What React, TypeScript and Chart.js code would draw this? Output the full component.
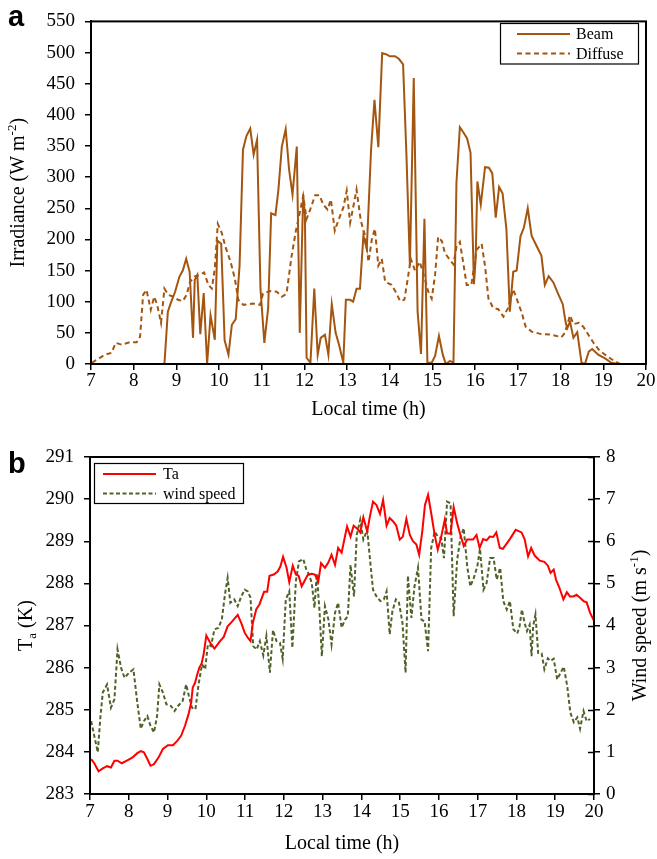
import React, { useEffect, useRef } from "react";
import { Chart, registerables } from "chart.js";
Chart.register(...registerables);

const SERIF = '"Liberation Serif", "Times New Roman", Times, serif';
const SANS = '"Liberation Sans", Arial, sans-serif';

// ---------- Panel a : irradiance ----------
const beamTime = [7.30, 8.72, 8.80, 8.88, 8.97, 9.07, 9.15, 9.23, 9.31, 9.39, 9.43, 9.49, 9.56, 9.64, 9.72, 9.80, 9.90, 9.96, 10.05, 10.13, 10.22, 10.30, 10.39, 10.48, 10.56, 10.64, 10.73, 10.81, 10.89, 10.97, 11.06, 11.15, 11.22, 11.32, 11.39, 11.47, 11.56, 11.64, 11.72, 11.82, 11.89, 11.97, 12.01, 12.05, 12.14, 12.23, 12.31, 12.38, 12.48, 12.56, 12.64, 12.73, 12.81, 12.91, 12.97, 13.07, 13.14, 13.22, 13.30, 13.38, 13.46, 13.56, 13.64, 13.73, 13.82, 13.92, 14.00, 14.12, 14.21, 14.31, 14.39, 14.47, 14.56, 14.65, 14.73, 14.81, 14.88, 14.98, 15.06, 15.15, 15.24, 15.31, 15.41, 15.49, 15.56, 15.64, 15.72, 15.81, 15.89, 15.97, 16.01, 16.05, 16.13, 16.23, 16.32, 16.40, 16.48, 16.56, 16.64, 16.73, 16.81, 16.89, 16.97, 17.06, 17.14, 17.23, 17.32, 17.44, 17.55, 17.63, 17.72, 17.83, 17.94, 18.05, 18.12, 18.16, 18.22, 18.30, 18.39, 18.49, 18.57, 18.66, 18.74, 18.88, 19.04, 19.19, 19.36];
const beamValues = [0, 0, 84, 100, 116, 140, 150, 169, 148, 42, 135, 143, 48, 114, 0, 78, 39, 198, 193, 38, 15, 63, 72, 158, 344, 366, 378, 336, 360, 121, 34, 90, 242, 239, 280, 349, 377, 312, 272, 349, 50, 272, 240, 10, 2, 121, 15, 42, 47, 15, 96, 50, 31, 2, 103, 103, 100, 121, 121, 206, 185, 344, 424, 348, 499, 497, 494, 494, 490, 481, 333, 158, 459, 84, 16, 233, 2, 2, 13, 45, 15, 0, 5, 2, 291, 380, 372, 362, 339, 128, 169, 293, 256, 316, 315, 306, 235, 284, 274, 217, 84, 148, 150, 205, 219, 250, 206, 189, 174, 127, 141, 131, 113, 96, 66, 58, 68, 42, 51, 2, 0, 20, 24, 15, 9, 2, 0];

const diffuseTime = [7.02, 7.33, 7.48, 7.58, 7.72, 7.91, 8.07, 8.15, 8.22, 8.30, 8.40, 8.48, 8.55, 8.64, 8.72, 8.81, 8.93, 9.04, 9.15, 9.24, 9.32, 9.44, 9.55, 9.65, 9.75, 9.83, 9.90, 9.97, 10.06, 10.15, 10.27, 10.37, 10.45, 10.57, 10.68, 10.80, 10.96, 11.03, 11.19, 11.35, 11.47, 11.58, 11.70, 11.80, 11.89, 11.97, 12.05, 12.14, 12.25, 12.35, 12.44, 12.54, 12.62, 12.71, 12.79, 12.91, 12.99, 13.07, 13.14, 13.22, 13.32, 13.42, 13.50, 13.58, 13.65, 13.73, 13.81, 13.89, 14.04, 14.16, 14.24, 14.34, 14.42, 14.49, 14.59, 14.70, 14.82, 14.90, 14.98, 15.06, 15.13, 15.22, 15.29, 15.41, 15.49, 15.56, 15.64, 15.72, 15.80, 15.91, 16.03, 16.15, 16.23, 16.31, 16.42, 16.54, 16.66, 16.77, 16.89, 16.97, 17.09, 17.18, 17.32, 17.55, 17.79, 18.02, 18.10, 18.22, 18.30, 18.43, 18.53, 18.65, 18.80, 18.92, 19.08, 19.23, 19.39];
const diffuseValues = [2, 15, 18, 34, 31, 35, 35, 44, 111, 119, 87, 108, 95, 66, 121, 111, 108, 103, 101, 111, 132, 141, 143, 147, 127, 121, 153, 225, 211, 188, 164, 137, 103, 95, 96, 97, 95, 113, 117, 116, 108, 113, 174, 214, 243, 270, 233, 249, 271, 271, 256, 248, 264, 214, 230, 251, 278, 227, 251, 280, 230, 206, 164, 201, 217, 158, 169, 132, 127, 113, 101, 103, 137, 169, 150, 164, 137, 116, 105, 143, 204, 197, 178, 167, 160, 188, 196, 162, 127, 127, 183, 193, 157, 105, 90, 88, 76, 90, 120, 105, 82, 60, 52, 48, 47, 43, 50, 78, 64, 66, 60, 47, 31, 21, 13, 6, 0];

// ---------- Panel b : air temperature and wind speed ----------
const taTime = [7.03, 7.11, 7.22, 7.33, 7.44, 7.54, 7.63, 7.71, 7.82, 7.95, 8.10, 8.22, 8.31, 8.39, 8.48, 8.56, 8.65, 8.77, 8.88, 9.01, 9.14, 9.25, 9.35, 9.45, 9.54, 9.61, 9.65, 9.71, 9.76, 9.82, 9.88, 9.93, 10.00, 10.10, 10.21, 10.34, 10.45, 10.55, 10.65, 10.81, 10.90, 10.99, 11.07, 11.14, 11.20, 11.29, 11.37, 11.49, 11.57, 11.63, 11.74, 11.84, 11.91, 11.98, 12.07, 12.14, 12.23, 12.31, 12.38, 12.46, 12.53, 12.62, 12.72, 12.80, 12.89, 12.96, 13.06, 13.15, 13.23, 13.32, 13.40, 13.49, 13.56, 13.63, 13.72, 13.80, 13.88, 13.97, 14.05, 14.15, 14.22, 14.30, 14.39, 14.48, 14.56, 14.65, 14.73, 14.82, 14.90, 14.99, 15.07, 15.16, 15.25, 15.33, 15.42, 15.49, 15.57, 15.64, 15.72, 15.80, 15.89, 15.97, 16.06, 16.15, 16.21, 16.30, 16.38, 16.47, 16.56, 16.64, 16.73, 16.88, 16.97, 17.05, 17.14, 17.23, 17.31, 17.40, 17.48, 17.57, 17.65, 17.83, 17.98, 18.13, 18.21, 18.30, 18.38, 18.47, 18.60, 18.72, 18.81, 18.88, 18.96, 19.02, 19.11, 19.21, 19.30, 19.38, 19.47, 19.55, 19.64, 19.73, 19.81, 19.90, 19.99];
const taValues = [283.83, 283.73, 283.54, 283.61, 283.66, 283.63, 283.79, 283.79, 283.73, 283.79, 283.87, 283.97, 284.02, 283.99, 283.83, 283.67, 283.71, 283.87, 284.07, 284.16, 284.16, 284.26, 284.38, 284.62, 284.89, 285.17, 285.53, 285.64, 285.82, 286.0, 286.10, 286.31, 286.76, 286.59, 286.45, 286.61, 286.73, 286.98, 287.08, 287.25, 287.06, 286.83, 286.71, 286.63, 287.06, 287.39, 287.50, 287.80, 287.80, 288.18, 288.21, 288.28, 288.40, 288.63, 288.37, 288.03, 288.42, 288.21, 288.18, 287.93, 288.05, 288.21, 288.23, 288.21, 288.05, 288.48, 288.37, 288.50, 288.68, 288.44, 288.84, 288.73, 289.04, 289.35, 289.11, 289.37, 289.31, 289.21, 289.57, 289.23, 289.59, 289.94, 289.86, 289.65, 289.98, 289.37, 289.55, 289.47, 289.37, 289.04, 289.11, 289.53, 289.15, 289.0, 288.92, 288.68, 289.23, 289.86, 290.10, 289.67, 289.15, 288.80, 289.11, 289.51, 289.19, 289.18, 289.81, 289.43, 289.13, 288.89, 289.04, 289.04, 289.15, 288.84, 289.05, 289.02, 289.11, 289.10, 289.21, 288.84, 288.82, 289.05, 289.27, 289.21, 289.05, 288.64, 288.84, 288.66, 288.54, 288.51, 288.42, 288.25, 288.33, 288.09, 287.89, 287.62, 287.79, 287.69, 287.69, 287.73, 287.66, 287.58, 287.55, 287.30, 287.13];

const windTime = [7.03, 7.11, 7.20, 7.27, 7.33, 7.44, 7.54, 7.63, 7.71, 7.80, 7.89, 8.01, 8.12, 8.22, 8.31, 8.39, 8.48, 8.56, 8.65, 8.73, 8.79, 8.88, 8.97, 9.09, 9.18, 9.27, 9.39, 9.48, 9.55, 9.63, 9.72, 9.80, 9.89, 9.97, 10.04, 10.12, 10.21, 10.31, 10.40, 10.48, 10.55, 10.62, 10.72, 10.81, 10.90, 10.99, 11.07, 11.14, 11.21, 11.30, 11.38, 11.47, 11.55, 11.64, 11.72, 11.81, 11.90, 11.97, 12.05, 12.14, 12.22, 12.31, 12.39, 12.50, 12.58, 12.65, 12.72, 12.79, 12.85, 12.92, 12.98, 13.06, 13.15, 13.23, 13.32, 13.40, 13.49, 13.58, 13.65, 13.72, 13.76, 13.81, 13.88, 13.97, 14.05, 14.15, 14.24, 14.30, 14.39, 14.49, 14.58, 14.65, 14.73, 14.80, 14.89, 14.97, 15.06, 15.14, 15.20, 15.29, 15.37, 15.46, 15.55, 15.63, 15.72, 15.80, 15.89, 15.97, 16.06, 16.13, 16.21, 16.30, 16.38, 16.47, 16.56, 16.64, 16.73, 16.81, 16.90, 16.99, 17.06, 17.15, 17.23, 17.32, 17.41, 17.49, 17.58, 17.66, 17.75, 17.83, 17.92, 18.02, 18.08, 18.14, 18.21, 18.27, 18.34, 18.39, 18.43, 18.49, 18.56, 18.65, 18.72, 18.81, 18.88, 18.96, 19.05, 19.14, 19.22, 19.31, 19.39, 19.48, 19.57, 19.64, 19.73, 19.81, 19.90];
const windValues = [1.73, 1.38, 0.99, 1.85, 2.41, 2.60, 2.05, 2.25, 3.43, 3.0, 2.76, 2.88, 2.96, 2.17, 1.55, 1.73, 1.85, 1.62, 1.46, 1.85, 2.60, 2.41, 2.13, 2.09, 1.97, 2.09, 2.21, 2.60, 2.33, 2.05, 2.01, 2.60, 3.08, 2.96, 3.55, 3.51, 3.91, 3.94, 4.14, 4.73, 5.13, 4.54, 4.62, 4.46, 4.69, 4.85, 4.81, 4.66, 3.51, 3.43, 3.63, 3.29, 3.75, 2.88, 3.89, 3.63, 3.59, 3.21, 4.62, 4.81, 3.47, 5.05, 5.52, 5.58, 5.33, 5.21, 5.01, 4.42, 5.23, 4.34, 3.27, 4.46, 4.14, 3.55, 4.30, 4.54, 3.95, 4.14, 4.22, 5.44, 5.09, 4.69, 6.15, 6.51, 6.04, 6.27, 5.40, 4.85, 4.69, 4.58, 4.62, 4.81, 3.79, 4.34, 4.62, 4.54, 4.06, 2.88, 5.18, 4.18, 4.93, 5.37, 4.14, 4.10, 3.39, 5.84, 6.23, 6.11, 6.07, 5.60, 6.94, 6.90, 4.22, 5.56, 6.11, 6.31, 5.40, 4.93, 5.13, 5.40, 5.82, 4.85, 5.01, 5.60, 5.60, 5.09, 5.37, 4.58, 4.38, 4.58, 3.91, 3.81, 3.98, 4.38, 4.06, 3.87, 4.02, 3.27, 3.98, 4.26, 3.35, 3.34, 2.96, 3.22, 3.16, 3.21, 2.72, 2.88, 3.02, 2.56, 1.93, 1.70, 1.82, 1.55, 1.97, 1.73, 1.78];

const beamLabel = "Beam";
const diffuseLabel = "Diffuse";
const taLabel = "Ta";
const windLabel = "wind speed";

const BROWN = "#A4550F";
const RED = "#FF0000";
const OLIVE = "#4F6228";

type Part = { text: string; mode?: "sup" | "sub" };

function partFont(size: number, mode?: string) {
  return `${mode ? Math.round(size * 0.65) : size}px ${SERIF}`;
}

function richWidth(ctx: CanvasRenderingContext2D, parts: Part[], size: number) {
  let w = 0;
  for (const p of parts) {
    ctx.font = partFont(size, p.mode);
    w += ctx.measureText(p.text).width;
  }
  return w;
}

function drawRich(ctx: CanvasRenderingContext2D, parts: Part[], cx: number, cy: number, size: number, rotate: boolean) {
  ctx.save();
  ctx.translate(cx, cy);
  if (rotate) ctx.rotate(-Math.PI / 2);
  ctx.fillStyle = "#000";
  ctx.textBaseline = "middle";
  ctx.textAlign = "left";
  let x = -richWidth(ctx, parts, size) / 2;
  for (const p of parts) {
    ctx.font = partFont(size, p.mode);
    const dy = p.mode === "sup" ? -size * 0.32 : p.mode === "sub" ? size * 0.28 : 0;
    ctx.fillText(p.text, x, dy);
    x += ctx.measureText(p.text).width;
  }
  ctx.restore();
}

type LegendItem = { label: string; color: string; dash: number[] };

function drawLegend(ctx: CanvasRenderingContext2D, box: { x: number; y: number; w: number; h: number }, lineX0: number, lineX1: number, textX: number, rowsY: number[], items: LegendItem[]) {
  ctx.save();
  ctx.fillStyle = "#fff";
  ctx.fillRect(box.x, box.y, box.w, box.h);
  ctx.strokeStyle = "#000";
  ctx.lineWidth = 1.2;
  ctx.strokeRect(box.x, box.y, box.w, box.h);
  items.forEach((it, i) => {
    const y = rowsY[i];
    ctx.strokeStyle = it.color;
    ctx.lineWidth = 2;
    ctx.setLineDash(it.dash);
    ctx.beginPath();
    ctx.moveTo(lineX0, y);
    ctx.lineTo(lineX1, y);
    ctx.stroke();
    ctx.setLineDash([]);
    ctx.fillStyle = "#000";
    ctx.font = `16px ${SERIF}`;
    ctx.textBaseline = "middle";
    ctx.textAlign = "left";
    ctx.fillText(it.label, textX, y + 1);
  });
  ctx.restore();
}

const tickFont = { family: SERIF, size: 19 };

function axisStyle(tickLength: number) {
  return {
    grid: { drawOnChartArea: false, drawTicks: true, tickLength, color: "#000", lineWidth: 1.5 },
    border: { display: true, color: "#000", width: 2 },
  };
}

function pts(xs: number[], ys: number[]) {
  return xs.map((x, i) => ({ x, y: ys[i] }));
}

function makeChartA(canvas: HTMLCanvasElement) {
  const deco = {
    id: "decoA",
    afterDraw(chart: any) {
      const ctx: CanvasRenderingContext2D = chart.ctx;
      const a = chart.chartArea;
      ctx.save();
      ctx.strokeStyle = "#000";
      ctx.lineWidth = 2;
      ctx.strokeRect(a.left, a.top, a.right - a.left, a.bottom - a.top);
      ctx.restore();
      drawLegend(ctx, { x: 500.5, y: 23.5, w: 138, h: 40.5 }, 517, 570, 576, [34, 53.5], [
        { label: beamLabel, color: BROWN, dash: [] },
        { label: diffuseLabel, color: BROWN, dash: [5, 3.5] },
      ]);
      drawRich(ctx, [{ text: "Local time (h)" }], (a.left + a.right) / 2, a.bottom + 46, 20, false);
      drawRich(ctx, [{ text: "Irradiance (W m" }, { text: "-2", mode: "sup" }, { text: ")" }], 19, (a.top + a.bottom) / 2, 20, true);
      ctx.save();
      ctx.fillStyle = "#000";
      ctx.font = `bold 29px ${SANS}`;
      ctx.textBaseline = "alphabetic";
      ctx.textAlign = "left";
      ctx.fillText("a", 8, 26);
      ctx.restore();
    },
  };
  return new Chart(canvas, {
    type: "line",
    data: {
      datasets: [
        { label: beamLabel, data: pts(beamTime, beamValues), borderColor: BROWN, borderWidth: 2, pointRadius: 0, tension: 0, fill: false },
        { label: diffuseLabel, data: pts(diffuseTime, diffuseValues), borderColor: BROWN, borderWidth: 2, borderDash: [5, 3.5], pointRadius: 0, tension: 0, fill: false },
      ],
    },
    options: {
      responsive: false,
      animation: false,
      devicePixelRatio: 1,
      layout: { padding: { left: 0, right: 11, top: 16, bottom: 0 } },
      plugins: { legend: { display: false }, tooltip: { enabled: false } },
      scales: {
        x: {
          type: "linear",
          min: 7,
          max: 20,
          ticks: { stepSize: 1, autoSkip: false, maxRotation: 0, font: tickFont, color: "#000", padding: 0 },
          ...axisStyle(6),
          afterFit: (s: any) => { s.height = 66; },
        },
        y: {
          type: "linear",
          min: 0,
          max: 550,
          ticks: { stepSize: 50, autoSkip: false, font: tickFont, color: "#000", padding: 10 },
          ...axisStyle(6),
          afterFit: (s: any) => { s.width = 91; },
        },
      },
    } as any,
    plugins: [deco],
  });
}

function makeChartB(canvas: HTMLCanvasElement) {
  const deco = {
    id: "decoB",
    afterDraw(chart: any) {
      const ctx: CanvasRenderingContext2D = chart.ctx;
      const a = chart.chartArea;
      ctx.save();
      ctx.strokeStyle = "#000";
      ctx.lineWidth = 2;
      ctx.strokeRect(a.left, a.top, a.right - a.left, a.bottom - a.top);
      const y2 = chart.scales.y2;
      ctx.lineWidth = 1.5;
      y2.ticks.forEach((t: any) => {
        const py = Math.round(y2.getPixelForValue(t.value)) + 0.5;
        ctx.beginPath();
        ctx.moveTo(a.right - 6, py);
        ctx.lineTo(a.right, py);
        ctx.stroke();
      });
      ctx.restore();
      drawLegend(ctx, { x: 94.5, y: 33.5, w: 149, h: 40 }, 103, 156, 163, [44, 63.5], [
        { label: taLabel, color: RED, dash: [] },
        { label: windLabel, color: OLIVE, dash: [4, 2.5] },
      ]);
      drawRich(ctx, [{ text: "Local time (h)" }], (a.left + a.right) / 2, a.bottom + 50, 20, false);
      drawRich(ctx, [{ text: "T" }, { text: "a", mode: "sub" }, { text: " (K)" }], 27, (a.top + a.bottom) / 2, 20, true);
      drawRich(ctx, [{ text: "Wind speed (m s" }, { text: "-1", mode: "sup" }, { text: ")" }], 641, (a.top + a.bottom) / 2, 20, true);
      ctx.save();
      ctx.fillStyle = "#000";
      ctx.font = `bold 29px ${SANS}`;
      ctx.textBaseline = "alphabetic";
      ctx.textAlign = "left";
      ctx.fillText("b", 8, 43);
      ctx.restore();
    },
  };
  return new Chart(canvas, {
    type: "line",
    data: {
      datasets: [
        { label: taLabel, data: pts(taTime, taValues), yAxisID: "y", borderColor: RED, borderWidth: 2, pointRadius: 0, tension: 0, fill: false },
        { label: windLabel, data: pts(windTime, windValues), yAxisID: "y2", borderColor: OLIVE, borderWidth: 2, borderDash: [4, 2.5], pointRadius: 0, tension: 0, fill: false },
      ],
    },
    options: {
      responsive: false,
      animation: false,
      devicePixelRatio: 1,
      layout: { padding: { left: 0, right: 0, top: 27, bottom: 0 } },
      plugins: { legend: { display: false }, tooltip: { enabled: false } },
      scales: {
        x: {
          type: "linear",
          min: 7,
          max: 20,
          ticks: { stepSize: 1, autoSkip: false, maxRotation: 0, font: tickFont, color: "#000", padding: 1 },
          ...axisStyle(6),
          afterFit: (s: any) => { s.height = 65; },
        },
        y: {
          type: "linear",
          position: "left",
          min: 283,
          max: 291,
          ticks: { stepSize: 1, autoSkip: false, font: tickFont, color: "#000", padding: 10 },
          ...axisStyle(6),
          afterFit: (s: any) => { s.width = 90; },
        },
        y2: {
          type: "linear",
          position: "right",
          min: 0,
          max: 8,
          ticks: { stepSize: 1, autoSkip: false, font: tickFont, color: "#000", padding: 6 },
          ...axisStyle(6),
          afterFit: (s: any) => { s.width = 63; },
        },
      },
    } as any,
    plugins: [deco],
  });
}

export default function App() {
  const refA = useRef<HTMLCanvasElement>(null);
  const refB = useRef<HTMLCanvasElement>(null);
  useEffect(() => {
    document.body.style.margin = "0";
    const ca = makeChartA(refA.current!);
    const cb = makeChartB(refB.current!);
    return () => {
      ca.destroy();
      cb.destroy();
    };
  }, []);
  return (
    <div style={{ position: "relative", width: 657, height: 859, background: "#fff" }}>
      <canvas ref={refA} width={657} height={430} style={{ position: "absolute", left: 0, top: 0, width: 657, height: 430 }} />
      <canvas ref={refB} width={657} height={429} style={{ position: "absolute", left: 0, top: 430, width: 657, height: 429 }} />
    </div>
  );
}
